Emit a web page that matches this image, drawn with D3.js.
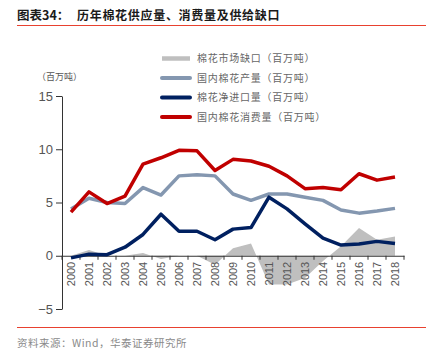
<!DOCTYPE html>
<html><head><meta charset="utf-8">
<script src="https://cdn.jsdelivr.net/npm/d3@7"></script>
<style>
html,body{margin:0;padding:0;background:#fff;}
svg{display:block;}
</style></head>
<body>
<svg id="c" width="430" height="357"></svg>
<script>
const years = ["2000","2001","2002","2003","2004","2005","2006","2007","2008","2009","2010","2011","2012","2013","2014","2015","2016","2017","2018"];
const gap = [0,0.55,0,0,0.25,-0.3,0,0,-0.85,0.7,1.15,-2.7,-2.7,-2.1,-0.5,0.9,2.6,1.5,1.8];
const production = [4.4,5.4,5.0,4.9,6.4,5.7,7.5,7.6,7.5,5.8,5.2,5.8,5.8,5.5,5.2,4.3,4.0,4.2,4.45];
const netImports = [-0.2,0.15,0.1,0.8,2.0,3.9,2.3,2.3,1.5,2.5,2.65,5.5,4.4,3.0,1.65,1.0,1.1,1.35,1.15];
const consumption = [4.1,6.0,4.9,5.6,8.6,9.2,9.9,9.85,8.0,9.05,8.9,8.4,7.5,6.3,6.4,6.2,7.7,7.1,7.4];
const yTicks = [15,10,5,0,-5];
const seriesNames = ["棉花市场缺口（百万吨）","国内棉花产量（百万吨）","棉花净进口量（百万吨）","国内棉花消费量（百万吨）"];
const seriesColors = ["#bfbfbf","#8497b0","#002060","#c00000"];

const svg = d3.select("#c");
const cjk = "'Noto Sans CJK SC','Noto Sans',sans-serif";
const lat = "'Liberation Sans',Arial,sans-serif";

// title
svg.append("text").attr("x",17).attr("y",20).attr("font-family",cjk).attr("font-weight","bold")
  .attr("font-size",12.5).attr("fill","#1a1a1a").text("图表34：");
svg.append("text").attr("x",77).attr("y",20).attr("font-family",cjk).attr("font-weight","bold")
  .attr("font-size",12).attr("letter-spacing","0.7px").attr("fill","#1a1a1a").text("历年棉花供应量、消费量及供给缺口");
svg.append("line").attr("x1",17).attr("x2",426).attr("y1",25.5).attr("y2",25.5).attr("stroke","#e8412f").attr("stroke-width",1);
svg.append("line").attr("x1",17).attr("x2",426).attr("y1",327.5).attr("y2",327.5).attr("stroke","#e8412f").attr("stroke-width",1);
svg.append("text").attr("x",17).attr("y",347).attr("font-family",cjk).attr("font-size",10.5)
  .attr("fill","#8a8a8a").attr("letter-spacing","0.5px").text("资料来源：Wind，华泰证券研究所");

const x = d3.scaleBand().domain(years).range([62,404]);
const y = d3.scaleLinear().domain([-5,15]).range([309,96]);
const cx = d => x(d) + x.bandwidth()/2;

// unit
svg.append("text").attr("x",37).attr("y",80).attr("font-family",cjk).attr("font-size",9)
  .attr("fill","#555").text("（百万吨）");

// gap area
const area = d3.area().x((d,i)=>cx(years[i])).y0(y(0)).y1(d=>y(d));
svg.append("path").datum(gap).attr("d",area).attr("fill","#bfbfbf");

// axes
const yAxis = svg.append("g").attr("transform","translate(62,0)")
  .call(d3.axisLeft(y).tickValues(yTicks).tickSize(6).tickSizeOuter(0).tickFormat(d=>d<0?"−"+Math.abs(d):d));
yAxis.select(".domain").attr("stroke","#333");
yAxis.selectAll(".tick line").attr("stroke","#333");
yAxis.selectAll(".tick text").attr("font-family",lat).attr("font-size",13).attr("fill","#555").attr("x",-9);

const xAxis = svg.append("g").attr("transform",`translate(0,${y(0)})`)
  .call(d3.axisBottom(x).tickSize(0).tickSizeOuter(0));
xAxis.select(".domain").attr("stroke","#333").attr("stroke-width",1.2);
xAxis.selectAll(".tick text").attr("font-family",lat).attr("font-size",11).attr("fill","#555")
  .attr("text-anchor","end").attr("transform","rotate(-90)").attr("x",-6).attr("y",0).attr("dy","0.35em");
// boundary ticks
const bounds = years.map(d=>x(d)).concat([x(years[years.length-1])+x.bandwidth()]);
svg.append("g").selectAll("line").data(bounds).join("line")
  .attr("x1",d=>d).attr("x2",d=>d).attr("y1",y(0)).attr("y2",y(0)+4).attr("stroke","#333");

// lines
const line = d3.line().x((d,i)=>cx(years[i])).y(d=>y(d));
[[production,seriesColors[1]],[netImports,seriesColors[2]],[consumption,seriesColors[3]]].forEach(([data,col])=>{
  svg.append("path").datum(data).attr("d",line).attr("fill","none").attr("stroke",col)
    .attr("stroke-width",3.5).attr("stroke-linejoin","round");
});

// legend
const lg = svg.append("g");
seriesNames.forEach((n,i)=>{
  const yy = 58.5 + i*19.5;
  lg.append("line").attr("x1",162).attr("x2",190).attr("y1",yy).attr("y2",yy)
    .attr("stroke",seriesColors[i]).attr("stroke-width",i===0?4.5:4).attr("stroke-linecap",i===0?"butt":"round");
  lg.append("text").attr("x",197).attr("y",yy).attr("dy","0.36em").attr("font-family",cjk)
    .attr("font-size",10).attr("letter-spacing","0.75px").attr("fill","#666").text(n);
});
</script>
</body></html>
